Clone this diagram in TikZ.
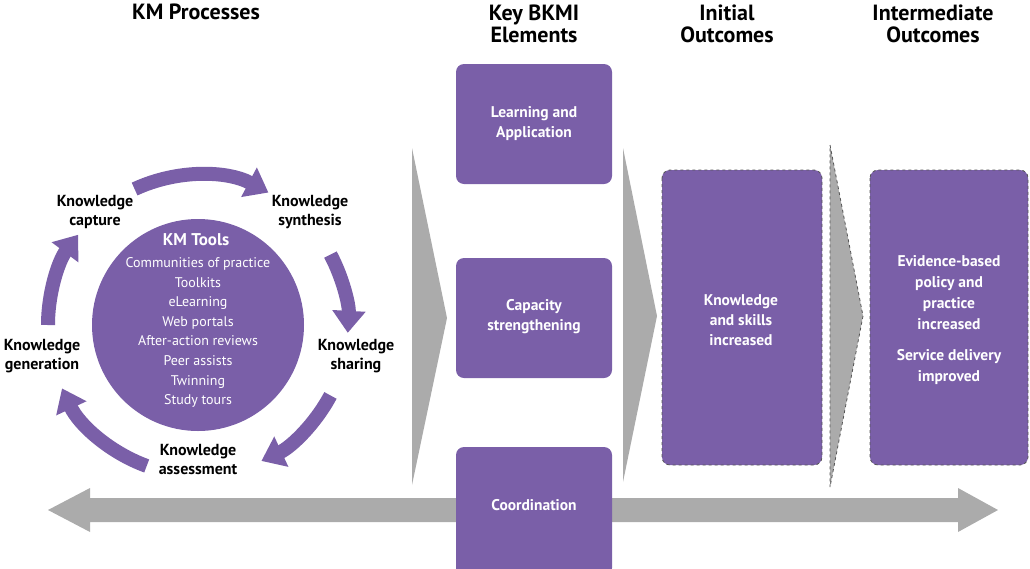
\documentclass[tikz,border=0pt]{standalone}
\usepackage{fontspec}
\setmainfont{PT Sans}
\usetikzlibrary{arrows.meta}
\definecolor{kp}{HTML}{7A5FA8}
\definecolor{kg}{HTML}{ABABAB}
\definecolor{kd}{HTML}{555555}
\begin{document}
\begin{tikzpicture}[x=1pt,y=-1pt,
  hd/.style={font=\fontsize{22}{22}\selectfont\bfseries,align=center,text=black},
  box/.style={fill=kp,rounded corners=8pt,draw=none},
  dbox/.style={fill=kp,rounded corners=8pt,draw=kd,dashed,line width=0.8pt},
  bt/.style={font=\fontsize{15.5}{20}\selectfont\bfseries,align=center,text=white},
  kl/.style={font=\fontsize{16}{19}\selectfont\bfseries,align=center,text=black},
  ring/.style={draw=kp,line width=14pt,-{Triangle[width=32pt,length=22pt]}}]
\useasboundingbox (0,0) rectangle (1030,568);
% headers
\node[hd] (h1) at (196,12) {KM Processes};
\node[hd] (h2) at (534,24) {Key BKMI\\Elements};
\node[hd] (h3) at (727,24) {Initial\\Outcomes};
\node[hd] (h4) at (933,24) {Intermediate\\Outcomes};
% horizontal double arrow
\fill[kg] (48,510) -- (90,488) -- (90,498) -- (958,498) -- (958,488) -- (998,510) -- (958,532) -- (958,522) -- (90,522) -- (90,532) -- cycle;
% chevrons
\fill[kg] (412,148) -- (447,318) -- (412,485) -- cycle;
\fill[kg] (623,148) -- (657,316) -- (623,482) -- cycle;
\filldraw[fill=kg,draw=kd,dashed,line width=0.8pt] (830,145) -- (863,316) -- (830,487) -- cycle;
% boxes
\path[box] (456,64) rectangle (612,184);
\node[bt] (la) at (534,124) {Learning and\\Application};
\path[box] (456,258) rectangle (612,378);
\node[bt] (cs) at (534,317) {Capacity\\strengthening};
\path[box] (456,447) rectangle (612,576);
\node[bt] (co) at (534,505) {Coordination};
\path[dbox] (662,170) rectangle (822,465);
\node[bt] (io) at (741,320) {Knowledge\\and skills\\increased};
\path[dbox] (870,170) rectangle (1028,465);
\node[bt,font=\fontsize{15.5}{21}\selectfont\bfseries] (im) at (949,320) {Evidence-based\\policy and\\practice\\increased\\[10pt]Service delivery\\improved};
% circle
\fill[kp] (198,325) circle (106);
\node[font=\fontsize{17}{17}\selectfont\bfseries,text=white] (kt) at (196,240) {KM Tools};
\node[font=\fontsize{14}{19.6}\selectfont,text=white,align=center,anchor=north] (tl) at (198,254) {Communities of practice\\Toolkits\\eLearning\\Web portals\\After-action reviews\\Peer assists\\Twinning\\Study tours};
% ring arrows
\def\R{150}
\draw[ring] ({198+\R*cos(-115)},{325+\R*sin(-115)}) arc[start angle=-115,end angle=-62,radius=\R];
\draw[ring] ({198+\R*cos(-28)},{325+\R*sin(-28)}) arc[start angle=-28,end angle=3,radius=\R];
\draw[ring] ({198+\R*cos(28)},{325+\R*sin(28)}) arc[start angle=28,end angle=65,radius=\R];
\draw[ring] ({198+\R*cos(110)},{325+\R*sin(110)}) arc[start angle=110,end angle=155,radius=\R];
\draw[ring] ({198+\R*cos(180)},{325+\R*sin(180)}) arc[start angle=180,end angle=217,radius=\R];
% labels
\node[kl] (kc) at (95,212) {Knowledge\\capture};
\node[kl] (ks) at (310,212) {Knowledge\\synthesis};
\node[kl] (ksh) at (356,356) {Knowledge\\sharing};
\node[kl] (ka) at (198,460) {Knowledge\\assessment};
\node[kl] (kgn) at (42,356) {Knowledge\\generation};
\end{tikzpicture}
\end{document}
